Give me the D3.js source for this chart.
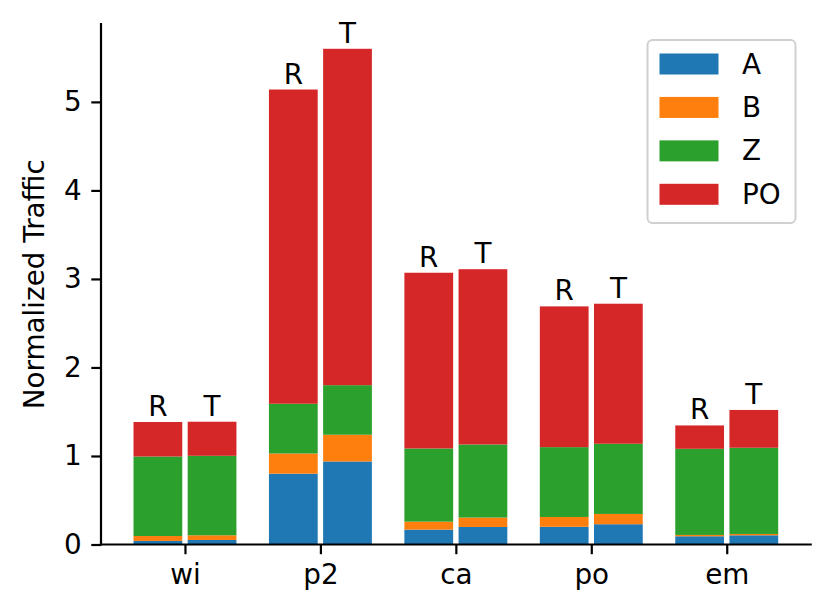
<!DOCTYPE html>
<html>
<head>
<meta charset="utf-8">
<script src="https://cdn.jsdelivr.net/npm/d3@7"></script>
<style>
  html, body { margin: 0; padding: 0; background: #fff; }
  svg { display: block; font-family: "DejaVu Sans", sans-serif; }
</style>
</head>
<body>
<svg id="chart" width="832" height="616"></svg>
<script>
// ---- data ----
const categories = ["wi", "p2", "ca", "po", "em"];
const variants = ["R", "T"];
const seriesNames = ["A", "B", "Z", "PO"];
const seriesColors = ["#1f77b4", "#ff7f0e", "#2ca02c", "#d62728"];

const A_R  = [0.040, 0.800, 0.168, 0.200, 0.093];
const A_T  = [0.051, 0.938, 0.198, 0.229, 0.104];
const B_R  = [0.056, 0.228, 0.090, 0.111, 0.015];
const B_T  = [0.053, 0.302, 0.106, 0.116, 0.015];
const Z_R  = [0.898, 0.562, 0.827, 0.789, 0.973];
const Z_T  = [0.898, 0.560, 0.826, 0.793, 0.974];
const PO_R = [0.390, 3.550, 1.985, 1.590, 0.264];
const PO_T = [0.385, 3.800, 1.980, 1.582, 0.427];

const yTicks = [0, 1, 2, 3, 4, 5];
const yLabel = "Normalized Traffic";

// ---- build rows ----
const seriesByVariant = {
  R: { A: A_R, B: B_R, Z: Z_R, PO: PO_R },
  T: { A: A_T, B: B_T, Z: Z_T, PO: PO_T }
};
const rows = [];
categories.forEach((c, i) => {
  variants.forEach((v, j) => {
    const r = { cat: c, idx: i, variant: v, vIdx: j };
    seriesNames.forEach(s => r[s] = seriesByVariant[v][s][i]);
    rows.push(r);
  });
});

const stacked = d3.stack().keys(seriesNames)(rows);
const maxTotal = d3.max(rows, r => d3.sum(seriesNames, s => r[s]));

// ---- layout ----
const svg = d3.select("#chart");
const mLeft = 101, mRight = 810.7, mTop = 24, mBottom = 544.5;

const x = d3.scaleLinear().domain([-0.62, 4.62]).range([mLeft, mRight]);
const y = d3.scaleLinear().domain([0, maxTotal * 1.05]).range([mBottom, mTop]);

const offset = 0.2;
const barW = x(0.36) - x(0);
const color = d3.scaleOrdinal().domain(seriesNames).range(seriesColors);

const barCx = r => x(r.idx + (r.vIdx === 0 ? -offset : offset));

// bars
const g = svg.append("g");
stacked.forEach(layer => {
  g.append("g")
    .attr("fill", color(layer.key))
    .selectAll("rect")
    .data(layer)
    .join("rect")
    .attr("x", d => barCx(d.data) - barW / 2)
    .attr("width", barW)
    .attr("y", d => y(d[1]))
    .attr("height", d => y(d[0]) - y(d[1]));
});

const fontSize = 27.8;

// R / T labels
g.append("g")
  .selectAll("text")
  .data(rows)
  .join("text")
  .attr("x", d => barCx(d))
  .attr("y", d => y(d3.sum(seriesNames, s => d[s])) - 6)
  .attr("text-anchor", "middle")
  .attr("font-size", fontSize)
  .attr("fill", "#000")
  .text(d => d.variant);

// axes
const yAxis = d3.axisLeft(y).tickValues(yTicks).tickFormat(d3.format("d"))
  .tickSize(9.7).tickPadding(9.7);
const yG = svg.append("g").attr("transform", `translate(${mLeft},0)`).call(yAxis);

const xAxis = d3.axisBottom(x).tickValues(d3.range(categories.length))
  .tickFormat(i => categories[i]).tickSize(9.7).tickPadding(9.7);
const xG = svg.append("g").attr("transform", `translate(0,${mBottom})`).call(xAxis);

[yG, xG].forEach(ax => {
  ax.select(".domain").attr("stroke", "#000").attr("stroke-width", 2.2)
    .attr("stroke-linecap", "square");
  ax.selectAll(".tick line").attr("stroke", "#000").attr("stroke-width", 2.2);
  ax.selectAll(".tick text").attr("font-size", fontSize).attr("fill", "#000")
    .attr("font-family", "DejaVu Sans, sans-serif");
});
yG.select(".domain").attr("d", `M0,${mBottom}V${mTop}`);
xG.select(".domain").attr("d", `M${mLeft},0H${mRight}`);

// y label
svg.append("text")
  .attr("transform", `translate(34,${(mTop + mBottom) / 2}) rotate(-90)`)
  .attr("text-anchor", "middle")
  .attr("dominant-baseline", "central")
  .attr("font-size", fontSize)
  .attr("fill", "#000")
  .text(yLabel);

// legend
const lg = svg.append("g");
lg.append("rect")
  .attr("x", 647.5).attr("y", 40).attr("width", 148).attr("height", 183)
  .attr("rx", 5).attr("ry", 5)
  .attr("fill", "#fff").attr("fill-opacity", 0.8)
  .attr("stroke", "#d0d0d0").attr("stroke-width", 2);
const rowY = d3.scalePoint().domain(seriesNames).range([64, 194.3]);
seriesNames.forEach(s => {
  lg.append("rect")
    .attr("x", 659.5).attr("y", rowY(s) - 10.5)
    .attr("width", 59).attr("height", 21)
    .attr("fill", color(s));
  lg.append("text")
    .attr("x", 742).attr("y", rowY(s))
    .attr("dominant-baseline", "central")
    .attr("font-size", fontSize).attr("fill", "#000")
    .text(s);
});
</script>
</body>
</html>
